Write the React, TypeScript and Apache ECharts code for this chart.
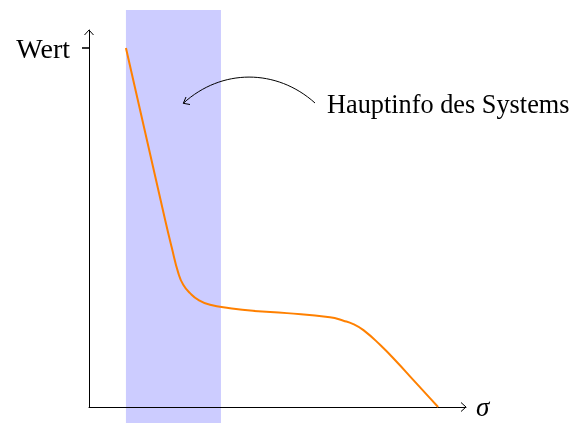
import React, { useEffect, useRef } from "react";
import * as echarts from "echarts";

// Curve (Wert over sigma), axis units: both axes 0..10
const SIGMA = [0.98, 2.02, 2.19, 2.37, 2.5, 2.68, 2.9, 3.21, 3.74, 4.35, 5.25, 6.39, 6.75, 7.01, 7.28, 7.72, 8.16, 8.6, 9.05, 9.26];
const WERT = [9.52, 4.96, 4.25, 3.55, 3.24, 3.02, 2.84, 2.71, 2.62, 2.55, 2.49, 2.38, 2.29, 2.2, 2.04, 1.65, 1.2, 0.72, 0.23, 0.0];
// highlighted band on the sigma axis
const BAND = [0.98, 3.5];
// y tick labelled "Wert"
const WERT_TICK = 9.52;
const WERT_LABEL = "Wert";
const X_NAME = "σ";
const NOTE = "Hauptinfo des Systems";

const FONT = "Liberation Serif";

export default function App() {
  const ref = useRef<HTMLDivElement>(null);
  useEffect(() => {
    const chart = echarts.init(ref.current!, null, { renderer: "svg" });
    const data = SIGMA.map((x, i) => [x, WERT[i]]);
    chart.setOption({
      animation: false,
      grid: [
        { left: 89, right: 107, top: 30, bottom: 16 },
        { left: 89, right: 107, top: 10, bottom: 0 },
      ],
      xAxis: [
        {
          gridIndex: 0,
          type: "value",
          min: 0,
          max: 10,
          z: 3,
          axisLine: { show: true, onZero: false, lineStyle: { color: "#000", width: 1 } },
          axisTick: { show: false },
          axisLabel: { show: false },
          splitLine: { show: false },
          name: X_NAME,
          nameLocation: "end",
          nameGap: 10,
          nameTextStyle: { fontFamily: FONT, fontStyle: "italic", fontSize: 27, color: "#000", padding: [0, 0, 4, 0] },
        },
        {
          gridIndex: 1,
          type: "value",
          min: 0,
          max: 10,
          show: false,
        },
      ],
      yAxis: [
        {
          gridIndex: 0,
          type: "value",
          min: 0,
          max: 10,
          z: 3,
          axisLine: { show: true, onZero: false, lineStyle: { color: "#000", width: 1 } },
          axisTick: { show: true, customValues: [WERT_TICK], length: 7, lineStyle: { color: "#000", width: 1.6 } },
          axisLabel: {
            show: true,
            customValues: [WERT_TICK],
            formatter: () => WERT_LABEL,
            margin: 19,
            fontFamily: FONT,
            fontSize: 28,
            color: "#000",
          },
          splitLine: { show: false },
        },
        {
          gridIndex: 1,
          type: "value",
          min: 0,
          max: 1,
          show: false,
        },
      ],
      series: [
        {
          type: "line",
          xAxisIndex: 1,
          yAxisIndex: 1,
          z: 1,
          data: [[BAND[0], 0]],
          showSymbol: false,
          symbol: "none",
          lineStyle: { opacity: 0 },
          silent: true,
          markArea: {
            silent: true,
            itemStyle: { color: "#ccccff", opacity: 1 },
            label: { show: false },
            data: [[{ xAxis: BAND[0] }, { xAxis: BAND[1] }]],
          },
        },
        {
          type: "line",
          xAxisIndex: 0,
          yAxisIndex: 0,
          z: 4,
          data,
          smooth: 0.5,
          showSymbol: false,
          symbol: "none",
          clip: false,
          lineStyle: { color: "#ff8000", width: 2 },
        },
      ],
      graphic: [
        // axis arrow heads
        { type: "polyline", z: 10, shape: { points: [[461, 402.5], [466, 407], [461, 411.5]] }, style: { stroke: "#000", fill: "none", lineWidth: 1 } },
        { type: "polyline", z: 10, shape: { points: [[84.5, 35], [89, 30], [93.5, 35]] }, style: { stroke: "#000", fill: "none", lineWidth: 1 } },
        // annotation arrow
        {
          type: "bezierCurve",
          z: 10,
          shape: { x1: 315, y1: 103, x2: 183.3, y2: 103.3, cpx1: 276.6, cpy1: 68.4, cpx2: 221.4, cpy2: 68.4 },
          style: { stroke: "#000", fill: "none", lineWidth: 1 },
        },
        { type: "polyline", z: 10, shape: { points: [[186, 97], [183.3, 103.3], [190, 104.5]] }, style: { stroke: "#000", fill: "none", lineWidth: 1 } },
        {
          type: "text",
          z: 10,
          x: 327,
          y: 104,
          style: { text: NOTE, fontFamily: FONT, fontSize: 26.3, fill: "#000", verticalAlign: "middle", align: "left" },
        },
      ],
    });
    return () => chart.dispose();
  }, []);
  return <div ref={ref} style={{ position: "fixed", left: 0, top: 0, width: 573, height: 423 }} />;
}
